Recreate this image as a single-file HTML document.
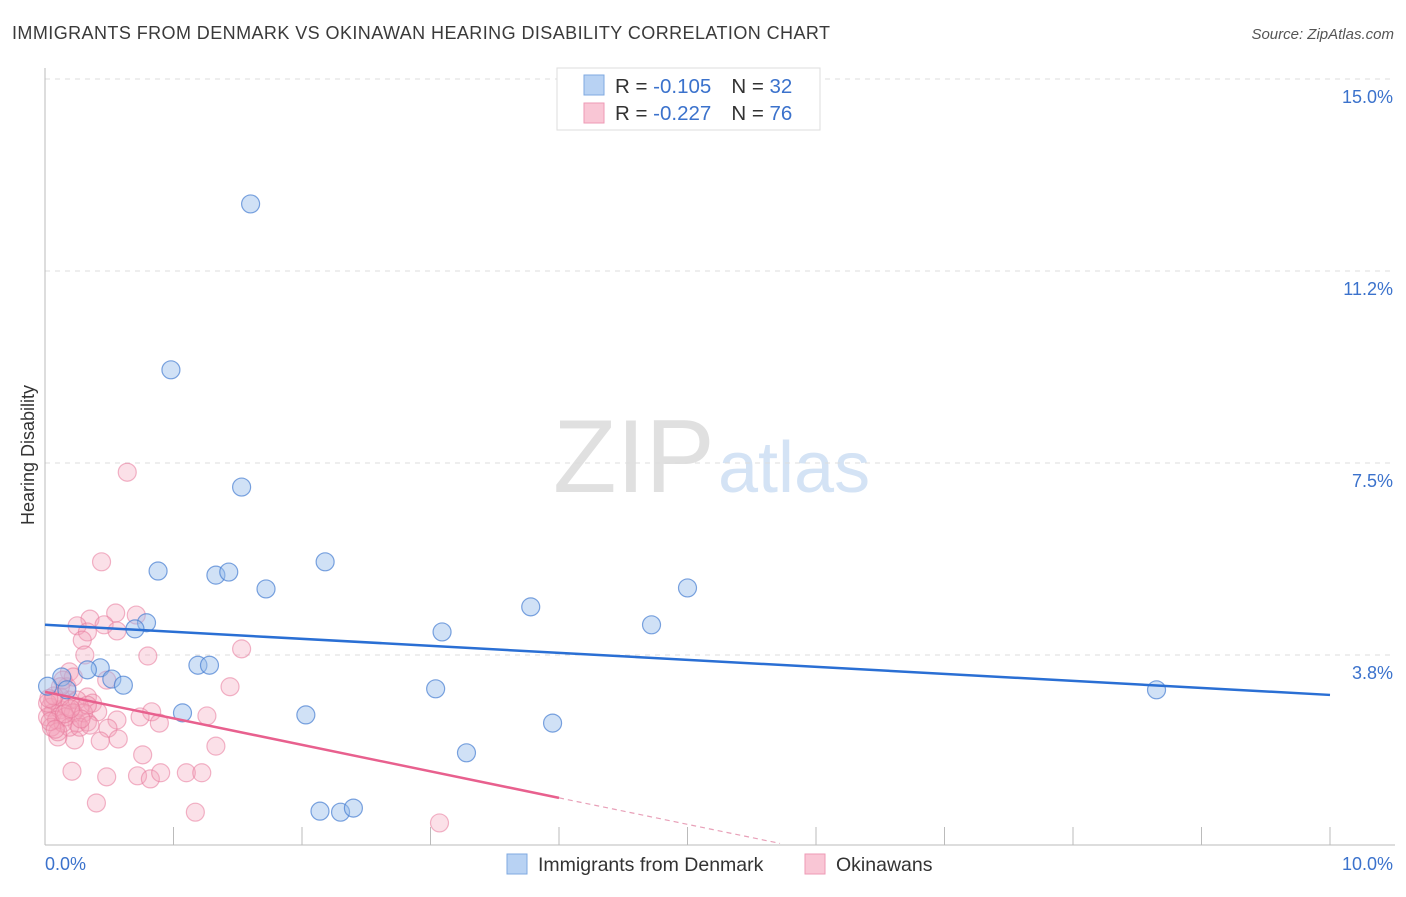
<!DOCTYPE html>
<html><head><meta charset="utf-8"><style>
body{margin:0;background:#fff;font-family:"Liberation Sans",sans-serif;}
svg text{font-family:"Liberation Sans",sans-serif;}
</style></head><body>
<svg id="c" width="1406" height="892" viewBox="0 0 1406 892">
<text x="12" y="39" font-size="18" fill="#3a3a3a" textLength="818">IMMIGRANTS FROM DENMARK VS OKINAWAN HEARING DISABILITY CORRELATION CHART</text>
<text x="1394" y="39" font-size="15" fill="#555" text-anchor="end" font-style="italic">Source: ZipAtlas.com</text>
<text x="553" y="492" font-size="104" fill="#e0e0e0" font-family="Liberation Serif">ZIP</text>
<text x="718" y="492" font-size="72" fill="#d4e3f5">atlas</text>
<text transform="translate(34,455) rotate(-90)" font-size="18" fill="#333" text-anchor="middle">Hearing Disability</text>
<g id="grid"></g><g id="pts"></g><g id="trend"></g>
<g>
<rect x="557" y="68" width="263" height="62" fill="#fff" stroke="#ddd"/>
<rect x="584" y="75" width="20" height="20" fill="#b8d2f3" stroke="#7fa9e0"/>
<rect x="584" y="103" width="20" height="20" fill="#f9c6d5" stroke="#ee9ab5"/>
<text x="615" y="93" font-size="20.5" fill="#333">R = <tspan fill="#3b72cc">-0.105</tspan><tspan dx="20">N = </tspan><tspan fill="#3b72cc">32</tspan></text>
<text x="615" y="120" font-size="20.5" fill="#333">R = <tspan fill="#3b72cc">-0.227</tspan><tspan dx="20">N = </tspan><tspan fill="#3b72cc">76</tspan></text>
</g>
<g>
<rect x="507" y="854" width="20" height="20" fill="#b8d2f3" stroke="#7fa9e0"/>
<text x="538" y="871" font-size="19.5" fill="#333">Immigrants from Denmark</text>
<rect x="805" y="854" width="20" height="20" fill="#f9c6d5" stroke="#ee9ab5"/>
<text x="836" y="871" font-size="19.5" fill="#333">Okinawans</text>
</g>
</svg>
<script>
const yTicks=[3.75,7.5,11.25,15];
const yTickLabels=["3.8%","7.5%","11.2%","15.0%"];
const xTickLabels=["0.0%","10.0%"];
const blueX=[1.60,0.98,1.53,0.88,1.33,1.43,1.72,2.18,5.0,3.78,4.72,3.09,0.79,0.70,0.43,0.33,1.19,1.28,0.52,0.61,0.13,0.17,0.02,3.04,8.65,1.07,2.03,3.95,3.28,2.14,2.30,2.40];
const blueY=[12.56,9.32,7.03,5.39,5.31,5.37,5.04,5.57,5.06,4.69,4.34,4.20,4.38,4.26,3.50,3.46,3.55,3.55,3.28,3.16,3.32,3.07,3.14,3.09,3.07,2.62,2.58,2.42,1.84,0.70,0.68,0.76];
const pinkX=[0.44,0.64,0.55,0.71,0.35,0.25,0.46,0.56,0.33,0.29,0.31,0.80,1.53,1.44,0.19,0.48,0.33,0.37,0.41,0.83,0.74,0.89,1.26,0.56,0.33,0.25,0.49,0.57,0.43,0.23,0.10,1.33,0.76,0.21,0.48,0.72,0.82,0.90,1.10,1.22,0.40,1.17,3.07,0.04,0.06,0.02,0.12,0.17,0.09,0.05,0.14,0.19,0.25,0.27,0.22,0.30,0.12,0.06,0.02,0.16,0.19,0.27,0.10,0.17,0.22,0.14,0.12,0.33,0.35,0.07,0.04,0.15,0.28,0.20,0.08,0.03];
const pinkY=[5.57,7.32,4.57,4.53,4.45,4.32,4.34,4.22,4.20,4.04,3.75,3.73,3.87,3.13,3.42,3.26,2.93,2.81,2.64,2.64,2.54,2.42,2.56,2.48,2.44,2.42,2.32,2.11,2.07,2.09,2.15,1.97,1.80,1.48,1.37,1.39,1.33,1.45,1.45,1.45,0.86,0.68,0.47,2.73,2.62,2.54,2.68,2.73,2.48,2.34,2.42,2.87,2.87,2.73,2.62,2.62,2.93,2.87,2.81,2.54,2.34,2.34,2.25,3.13,3.32,3.26,3.13,2.77,2.38,2.95,2.45,2.60,2.50,2.70,2.30,2.90];
const blueTrend=[[0,4.34],[10,2.97]];
const pinkTrend=[[0,3.03],[4.0,0.96]];
const pinkDash=[[4.0,0.96],[5.72,0.07]];
const X=v=>45+v*128.5, Y=v=>847-v*51.2;
const NS="http://www.w3.org/2000/svg";
function mk(t,a,p){const e=document.createElementNS(NS,t);for(const k in a)e.setAttribute(k,a[k]);p.appendChild(e);return e;}
const g=document.getElementById('grid');
yTicks.forEach((t,i)=>{
 const l=mk('line',{x1:45,x2:1395,y1:Y(t),y2:Y(t),stroke:'#ddd','stroke-dasharray':'5,5'},g);
 
 
 const tx=mk('text',{x:1393,y:Y(t)+24,'font-size':18,fill:'#3b72cc','text-anchor':'end'},g);
 tx.textContent=yTickLabels[i];
 
 
});
const ax=mk('line',{x1:45,x2:1395,y1:845,y2:845,stroke:'#bbb'},g);


const ay=mk('line',{x1:45,x2:45,y1:68,y2:845,stroke:'#bbb'},g);


for(let k=1;k<=10;k++){const t=mk('line',{x1:X(k),x2:X(k),y1:827,y2:845,stroke:'#bbb'},g);
 
 }
[[0,'start',45],[10,'end',1393]].forEach(([v,a,x],i)=>{const t=mk('text',{x:x,y:870,'font-size':18,fill:'#3b72cc','text-anchor':a},g);t.textContent=xTickLabels[i];
 
 });
const p=document.getElementById('pts');
pinkX.forEach((x,i)=>{const c=mk('circle',{cx:X(x),cy:Y(pinkY[i]),r:9,fill:'rgba(244,160,186,0.33)',stroke:'rgba(232,120,155,0.55)','stroke-width':1.2},p);
 
 });
blueX.forEach((x,i)=>{const c=mk('circle',{cx:X(x),cy:Y(blueY[i]),r:9,fill:'rgba(150,188,236,0.45)',stroke:'rgba(70,125,210,0.7)','stroke-width':1.2},p);
 
 });
const tr=document.getElementById('trend');
const l1=mk('line',{x1:X(blueTrend[0][0]),y1:Y(blueTrend[0][1]),x2:X(blueTrend[1][0]),y2:Y(blueTrend[1][1]),stroke:'#2a6fd4','stroke-width':2.5},tr);


const l2=mk('line',{x1:X(pinkTrend[0][0]),y1:Y(pinkTrend[0][1]),x2:X(pinkTrend[1][0]),y2:Y(pinkTrend[1][1]),stroke:'#e8608e','stroke-width':2.5},tr);


const l3=mk('line',{x1:X(pinkDash[0][0]),y1:Y(pinkDash[0][1]),x2:X(pinkDash[1][0]),y2:Y(pinkDash[1][1]),stroke:'#e8a0b8','stroke-width':1.2,'stroke-dasharray':'5,4'},tr);


</script>
</body></html>
